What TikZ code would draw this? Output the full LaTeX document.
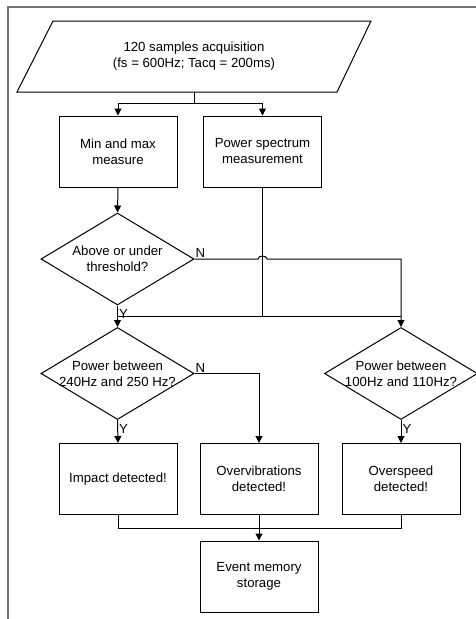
\documentclass[tikz,border=0pt]{standalone}
\usepackage{fontspec}
\setmainfont{Liberation Sans}
\usetikzlibrary{shapes.geometric,arrows.meta}
\tikzset{
  procbox/.style={draw,line width=1pt,minimum width=118pt,minimum height=71pt,
    align=center,inner sep=2pt},
  decision/.style={draw,diamond,line width=1pt,minimum width=153pt,
    minimum height=92pt,inner sep=0pt},
  flow/.style={line width=1pt},
  arrow/.style={flow,-{Triangle[width=7pt,length=7pt]}},
  yn/.style={inner sep=1pt}
}
\begin{document}
\begin{tikzpicture}[x=1pt,y=-1pt,font=\fontsize{13.2}{16}\selectfont]
  \useasboundingbox (0,0) rectangle (476,619);
  \draw[line width=1.3pt,color={rgb,255:red,120;green,120;blue,120}]
    (476,7) -- (8,7) -- (8,619);

  \draw[line width=1pt] (17,92) -- (53,21) -- (371,21) -- (337,92) -- cycle;
  \node[minimum height=71pt,align=center] (acq) at (194,56.5)
    {120 samples acquisition\\(fs = 600Hz; Tacq = 200ms)};

  \node[procbox] (minmax) at (118,151.5) {Min and max\\measure};
  \node[procbox] (spectrum) at (262.5,151.5) {Power spectrum\\measurement};
  \node[decision,label={[align=center]center:Above or under\\threshold?}]
    (thr) at (117.5,259) {};
  \node[decision,label={[align=center]center:Power between\\240Hz and 250 Hz?}]
    (band) at (117.5,373.5) {};
  \node[decision,label={[align=center]center:Power between\\100Hz and 110Hz?}]
    (speed) at (401,373.5) {};
  \node[procbox] (impact) at (118,479) {Impact detected!};
  \node[procbox] (overvib) at (259,479) {Overvibrations\\detected!};
  \node[procbox] (overspeed) at (401,479) {Overspeed\\detected!};
  \node[procbox] (storage) at (259,576.5) {Event memory\\storage};

  \coordinate (split) at (194,103);
  \coordinate (mid) at (262.5,316);
  \coordinate (merge) at (259,528);

  \draw[flow] (acq.south) -- (split);
  \draw[arrow] (split) -| (minmax.north);
  \draw[arrow] (split) -| (spectrum.north);
  \draw[arrow] (minmax.south) -- (thr.north);

  \draw[flow] (spectrum.south) -- (mid);
  \draw[flow] (mid) -- (mid -| thr.south);
  \draw[flow] (mid) -- (mid -| speed.north);
  \draw[arrow] (thr.east) -- (258,259)
    arc[start angle=180,end angle=0,x radius=4.5pt,y radius=3pt]
    -- (thr.east -| speed.north) -- (speed.north);
  \node[yn,anchor=south west] (thrno) at (thr.east) {N};
  \draw[arrow] (thr.south) -- (band.north)
    node[yn,pos=0.4,anchor=west] (thryes) {Y};

  \draw[arrow] (band.east) -| (overvib.north);
  \node[yn,anchor=south west] (bandno) at (band.east) {N};
  \draw[arrow] (band.south) -- (impact.north)
    node[yn,pos=0.4,anchor=west] (bandyes) {Y};
  \draw[arrow] (speed.south) -- (overspeed.north)
    node[yn,pos=0.4,anchor=west] (speedyes) {Y};

  \foreach \n in {impact,overspeed}
    \draw[flow] (\n.south) |- (merge);
  \draw[arrow] (overvib.south) -- (storage.north);
\end{tikzpicture}
\end{document}
